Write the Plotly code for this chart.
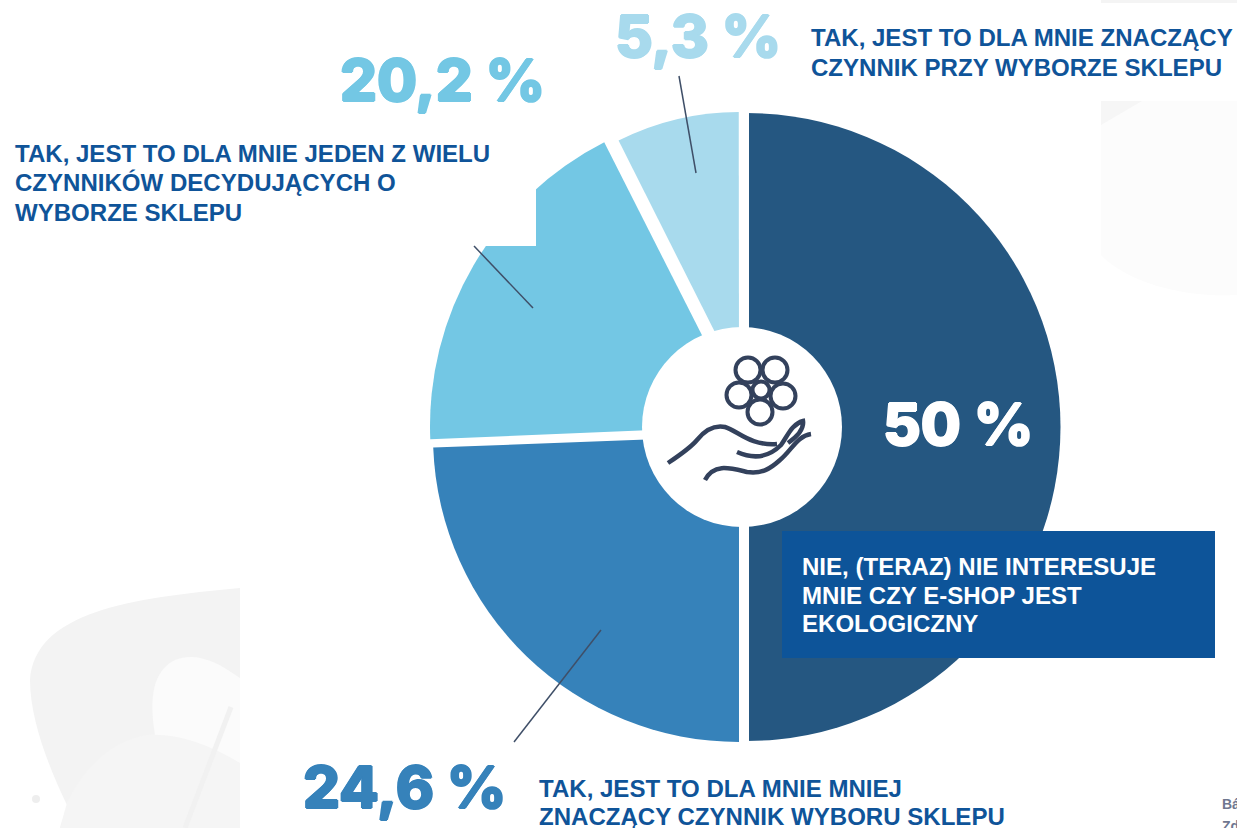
import plotly.graph_objects as go

W, H = 1237, 828
# slice shares as drawn in the picture (the printed labels are kept separately)
categories = ["NIE, (TERAZ) NIE INTERESUJE MNIE CZY E-SHOP JEST EKOLOGICZNY",
              "TAK, JEST TO DLA MNIE MNIEJ ZNACZĄCY CZYNNIK WYBORU SKLEPU",
              "TAK, JEST TO DLA MNIE JEDEN Z WIELU CZYNNIKÓW DECYDUJĄCYCH O WYBORZE SKLEPU",
              "TAK, JEST TO DLA MNIE ZNACZĄCY CZYNNIK PRZY WYBORZE SKLEPU"]
drawn_shares = [50, 24.4, 18.2, 7.4]
printed_labels = ["50 %", "24,6 %", "20,2 %", "5,3 %"]
slice_colors = ["#255781", "#3682BA", "#73C7E4", "#A8DAED"]
pct_colors = ["#FFFFFF", "#3682BA", "#73C7E4", "#A8DAED"]
pct_pos = [(958, 424), (404, 787), (442, 80), (698, 36)]
# each slice sits on its own centre so the white gaps run as in the picture
slice_geom = [(746.5, 427, 314, 0), (739, 436, 306, 180), (748, 426, 318, 267.6), (739, 380, 268, 333.3)]

label_lines = [
    ("TAK, JEST TO DLA MNIE ZNACZĄCY", 811, 38, "#0F5499"),
    ("CZYNNIK PRZY WYBORZE SKLEPU", 811, 67, "#0F5499"),
    ("TAK, JEST TO DLA MNIE JEDEN Z WIELU", 15, 154, "#0F5499"),
    ("CZYNNIKÓW DECYDUJĄCYCH O", 15, 183, "#0F5499"),
    ("WYBORZE SKLEPU", 15, 212, "#0F5499"),
    ("NIE, (TERAZ) NIE INTERESUJE", 802, 566, "#FFFFFF"),
    ("MNIE CZY E-SHOP JEST", 802, 595, "#FFFFFF"),
    ("EKOLOGICZNY", 802, 623, "#FFFFFF"),
    ("TAK, JEST TO DLA MNIE MNIEJ", 539, 788, "#0F5499"),
    ("ZNACZĄCY CZYNNIK WYBORU SKLEPU", 539, 816, "#0F5499"),
]


def px(x):
    return x / W


def py(y):
    return 1 - y / H


def path(cmds):
    out = []
    for c in cmds:
        if isinstance(c, str):
            out.append(c)
        else:
            out.append(f"{px(c[0]):.5f},{py(c[1]):.5f}")
    return " ".join(out)


def pshape(cmds, fill="rgba(0,0,0,0)", line=None, width=0, layer="above"):
    return dict(type="path", xref="paper", yref="paper", path=path(cmds), fillcolor=fill,
                line=dict(color=line or "rgba(0,0,0,0)", width=width), layer=layer)


def rect(x0, y0, x1, y1, fill, layer="above"):
    return dict(type="rect", xref="paper", yref="paper", x0=px(x0), x1=px(x1), y0=py(y1), y1=py(y0),
                fillcolor=fill, line=dict(width=0), layer=layer)


def circle(x, y, r, fill, line=None, width=0, layer="above"):
    return dict(type="circle", xref="paper", yref="paper", x0=px(x - r), x1=px(x + r), y0=py(y + r), y1=py(y - r),
                fillcolor=fill, line=dict(color=line or "rgba(0,0,0,0)", width=width), layer=layer)


def seg(x0, y0, x1, y1, color, width=1.5, layer="above"):
    return dict(type="line", xref="paper", yref="paper", x0=px(x0), x1=px(x1), y0=py(y0), y1=py(y1),
                line=dict(color=color, width=width), layer=layer)


fig = go.Figure()
for cat, share, label, color, (cx, cy, r, start) in zip(categories, drawn_shares, printed_labels, slice_colors, slice_geom):
    fig.add_trace(go.Pie(
        labels=[cat, "–"], values=[share, 100 - share], sort=False, direction="clockwise", rotation=start,
        textinfo="none", showlegend=False, hoverinfo="none",
        marker=dict(colors=[color, "rgba(0,0,0,0)"], line=dict(width=0)),
        domain=dict(x=[px(cx - r), px(cx + r)], y=[py(cy + r), py(cy - r)]),
    ))

ICON = "#33415C"
shapes = [
    # faint background art, bottom-left
    pshape(["M", (240, 588), "C", (130, 598), (35, 612), (30, 680), "C", (30, 720), (50, 770), (67, 805),
            "L", (60, 828), "L", (240, 828), "Z"], fill="#F3F3F3", layer="below"),
    pshape(["M", (240, 678), "C", (215, 660), (195, 652), (175, 660), "C", (150, 672), (150, 705), (155, 735),
            "L", (240, 775), "Z"], fill="#FBFBFB", layer="below"),
    pshape(["M", (240, 763), "C", (205, 742), (175, 733), (147, 735), "C", (105, 742), (80, 775), (67, 803),
            "L", (60, 828), "L", (240, 828), "Z"], fill="#F5F5F5", layer="below"),
    seg(231, 707, 185, 828, "#F1F1F1", 5, "below"),
    circle(36, 799, 4, "#EEEEEE", layer="below"),
    # faint background art, right
    rect(1101, 0, 1237, 3, "#F4F4F4", "below"),
    pshape(["M", (1101, 101), "L", (1237, 101), "L", (1237, 295), "C", (1190, 298), (1130, 285), (1101, 255), "Z"],
           fill="#FCFCFC", layer="below"),
    pshape(["M", (1101, 101), "L", (1142, 101), "L", (1101, 125), "Z"], fill="#F6F6F6", layer="below"),
    # vertical white gap
    rect(739, 100, 749, 750, "#FFFFFF"),
    # white patch hiding the pie behind the left label
    rect(0, 130, 536, 246, "#FFFFFF"),
    # label box
    rect(782, 531, 1215, 658, "#0D5499"),
    # leader lines
    seg(679, 76, 696, 173, "#3F4F68"),
    seg(474, 246, 533, 308, "#3F4F68"),
    seg(601, 630, 514, 742, "#3F4F68"),
    # centre disc
    circle(742, 427, 100, "#FFFFFF"),
]
# flower icon
for (x, y) in [(748, 370), (775, 370), (783, 396), (760, 412), (739, 395)]:
    shapes.append(circle(x, y, 12.5, "#FFFFFF", ICON, 4))
shapes.append(circle(761, 390, 8.5, "#FFFFFF", ICON, 4))
# hand icon
shapes += [
    pshape(["M", (668, 463), "C", (680, 455), (692, 446), (697, 440), "C", (705, 430), (715, 425), (725, 427),
            "C", (738, 431), (750, 446), (777, 444)], line=ICON, width=4.5),
    pshape(["M", (737, 452), "C", (755, 460), (770, 456), (781, 445), "C", (788, 435), (792, 424), (803, 421),
            "C", (804, 428), (798, 436), (788, 443)], line=ICON, width=4.5),
    pshape(["M", (811, 434), "C", (797, 436), (792, 450), (780, 460), "C", (770, 469), (762, 474), (747, 472),
            "C", (730, 468), (714, 463), (705, 480)], line=ICON, width=4.5),
]

annotations = []
for txt, (x, y), col in zip(printed_labels, pct_pos, pct_colors):
    annotations.append(dict(text=txt, xref="paper", yref="paper", x=px(x), y=py(y), xanchor="center",
                            yanchor="middle", showarrow=False,
                            font=dict(family="Inter", size=58, color=col, weight=800,
                                      shadow=f"1px 0 0 {col}, -1px 0 0 {col}, 0 1px 0 {col}, 0 -1px 0 {col}")))
for txt, x, y, col in label_lines:
    annotations.append(dict(text=f"<b>{txt}</b>", xref="paper", yref="paper", x=px(x), y=py(y), xanchor="left",
                            yanchor="middle", showarrow=False, xshift=-2,
                            font=dict(family="Liberation Sans", size=24.05, color=col)))
for txt, y in [("Bá", 804), ("Zd", 826)]:
    annotations.append(dict(text=f"<b>{txt}</b>", xref="paper", yref="paper", x=px(1220), y=py(y), xanchor="left",
                            yanchor="middle", showarrow=False,
                            font=dict(family="Liberation Sans", size=14, color="#6F7790")))

fig.update_layout(width=W, height=H, margin=dict(l=0, r=0, t=0, b=0), paper_bgcolor="#FFFFFF",
                  shapes=shapes, annotations=annotations, showlegend=False)
fig.write_html("out.html", post_script="document.body.style.margin='0';document.body.style.overflow='hidden';",
               config=dict(displayModeBar=False))
